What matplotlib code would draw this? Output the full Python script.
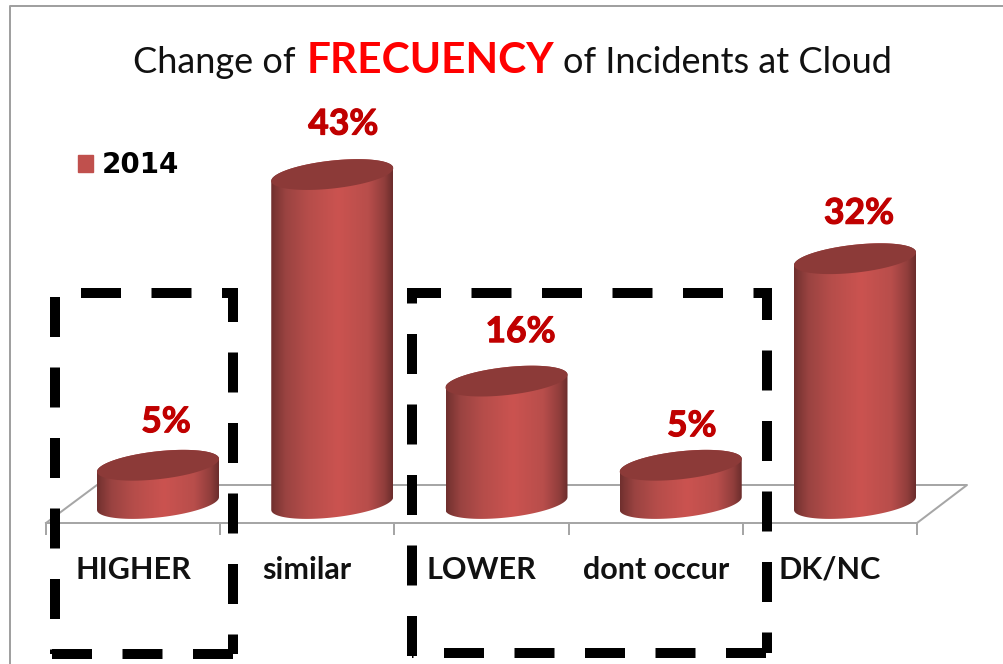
import numpy as np
import matplotlib
matplotlib.use("Agg")
import matplotlib.pyplot as plt
from matplotlib.colors import LinearSegmentedColormap
from matplotlib.lines import Line2D
from matplotlib.patches import PathPatch, Patch
from matplotlib.path import Path
import matplotlib.patheffects as pe

categories = ['HIGHER', 'similar', 'LOWER', 'dont occur', 'DK/NC']
values = [5, 43, 16, 5, 32]
value_labels = ['5%', '43%', '16%', '5%', '32%']
series_name = '2014'

W, H = 1004, 664
px = 0.72  # one pixel in points at dpi 100
plt.rcParams['lines.scale_dashes'] = False

fig = plt.figure(figsize=(W / 100, H / 100), dpi=100)
fig.patch.set_facecolor('white')

# data axes: category index on x, percent on y, over the whole figure
ax = fig.add_axes([0, 0, 1, 1], zorder=2)
ax.patch.set_alpha(0)
ax.axis('off')
step_px = 174.25
per_pct = 7.65
x0_px = 158
y0_px = 503.5
xlim = (-x0_px / step_px, (W - x0_px) / step_px)
ylim = ((y0_px - H) / per_pct, y0_px / per_pct)
ax.set_xlim(xlim)
ax.set_ylim(ylim)

# pixel overlay for the decoration
pax = fig.add_axes([0, 0, 1, 1], zorder=1)
pax.set_xlim(0, W)
pax.set_ylim(H, 0)
pax.axis('off')

top = fig.add_axes([0, 0, 1, 1], zorder=3)
top.set_xlim(0, W)
top.set_ylim(H, 0)
top.patch.set_alpha(0)
top.axis('off')

# chart frame
pax.plot([10, 10, W + 5], [H + 5, 6, 6], color='#a0a0a0', lw=2 * px)

# floor
floor_c = '#a6a6a6'
pax.plot([46, 917, 967, 97, 46], [523, 523, 485, 485, 523], color=floor_c, lw=2 * px)
for t in range(6):
    tx = 46 + t * step_px
    pax.plot([tx, tx], [523, 534], color=floor_c, lw=2 * px)

# cylinders
body_cmap = LinearSegmentedColormap.from_list('body', [
    (0.0, '#702f2e'), (0.04, '#7f3735'), (0.12, '#9a4341'), (0.3, '#b54d4a'),
    (0.55, '#cb5350'), (0.8, '#b84e4b'), (0.93, '#913e3c'), (1.0, '#6b2d2c')])
grad = np.linspace(0, 1, 256).reshape(1, -1)
bar_w = 122
rx = bar_w / 2
ry = 14


def ellipse_points(cx, cy, a, b):
    ex = rx * np.cos(a)
    ey = ry * np.sin(b) - ex * 0.105
    return cx + ex, cy + ey


to_px = pax.transData.inverted()
for i, v in enumerate(values):
    cx, ty = to_px.transform(ax.transData.transform((i, v)))
    cx, by = to_px.transform(ax.transData.transform((i, 0)))
    # outline: lower half of bottom ellipse, upper half of top ellipse
    a = np.linspace(np.pi, 0, 60)
    bx, bot = ellipse_points(cx, by, a, a)
    a2 = np.linspace(0, np.pi, 60)
    tx_, tp = ellipse_points(cx, ty, a2, -a2)
    outline = Path(np.column_stack([np.r_[bx, tx_], np.r_[bot, tp]]))
    clip = PathPatch(outline, fc='none', ec='none', transform=pax.transData)
    pax.add_patch(clip)
    im = ax.imshow(grad, cmap=body_cmap, aspect='auto', interpolation='bilinear',
                   extent=(i - bar_w / 2 / step_px, i + bar_w / 2 / step_px,
                           -3.0, v + 3.0), zorder=2)
    im.set_clip_path(clip)
    a3 = np.linspace(0, 2 * np.pi, 120)
    lx, ly = ellipse_points(cx, ty, a3, a3)
    ax.fill(*ax.transData.inverted().transform(
        pax.transData.transform(np.column_stack([lx, ly]))).T,
        color='#8c3a38', lw=0, zorder=3)
ax.set_xlim(xlim)
ax.set_ylim(ylim)

# value labels
label_dx = [8, 11, 14, 11, 4]
label_dy = [43, 50, 49, 39, 45]
heavier = [pe.withStroke(linewidth=0.8, foreground='#c00000')]
for i, (v, s) in enumerate(zip(values, value_labels)):
    ax.annotate(s, (i, v), xytext=(label_dx[i] * px, label_dy[i] * px),
                textcoords='offset points', ha='center', va='center',
                fontsize=25.5, fontweight='bold', color='#c00000', family='Lato', zorder=5,
                path_effects=heavier)

# category labels, centred in the tick slots
for i, c in enumerate(categories):
    lx = to_px.transform(ax.transData.transform((i, 0)))[0] - 25
    top.text(lx, 570, c, ha='center', va='center', fontsize=22, fontweight='bold',
             family='Lato', color='#111111')

# title in three pieces
tk = dict(va='baseline', family='Lato', fontsize=26, color='#111111')
top.text(133, 73, 'Change of', ha='left', **tk)
top.text(307, 73, 'FRECUENCY', ha='left', va='baseline', family='Lato', fontsize=30.5,
         fontweight='bold', color='#ff0000')
top.text(563, 73, 'of Incidents at Cloud', ha='left', **tk)

# legend
leg = pax.legend(handles=[Patch(color='#c0504d', label=series_name)], loc='center left',
                 bbox_to_anchor=(78 / W, 1 - 165 / H), frameon=False, handlelength=0.55,
                 handleheight=0.55, handletextpad=0.3, borderpad=0, borderaxespad=0,
                 prop={'family': 'DejaVu Sans', 'weight': 'bold', 'size': 20})

# dashed highlight boxes: start, end, dash offset in pixels
dash = dict(color='black', lw=10 * px, solid_capstyle='butt', dash_capstyle='butt')


def dashed(x, y, off=0):
    top.add_line(Line2D(x, y, ls=(off * px, (40 * px, 30.5 * px)), **dash))


dashed([81, 238], [293, 293])
dashed([233, 233], [288, 654], off=6)
dashed([233, 50], [654, 654])
dashed([55, 55], [297, 654])

dashed([407, 772], [293, 293], off=6)
dashed([767, 767], [288, 653], off=8)
dashed([766, 412], [653, 653])
dashed([412, 412], [288, 658], off=24.5)

fig.savefig('out.png', dpi=100, facecolor='white')
